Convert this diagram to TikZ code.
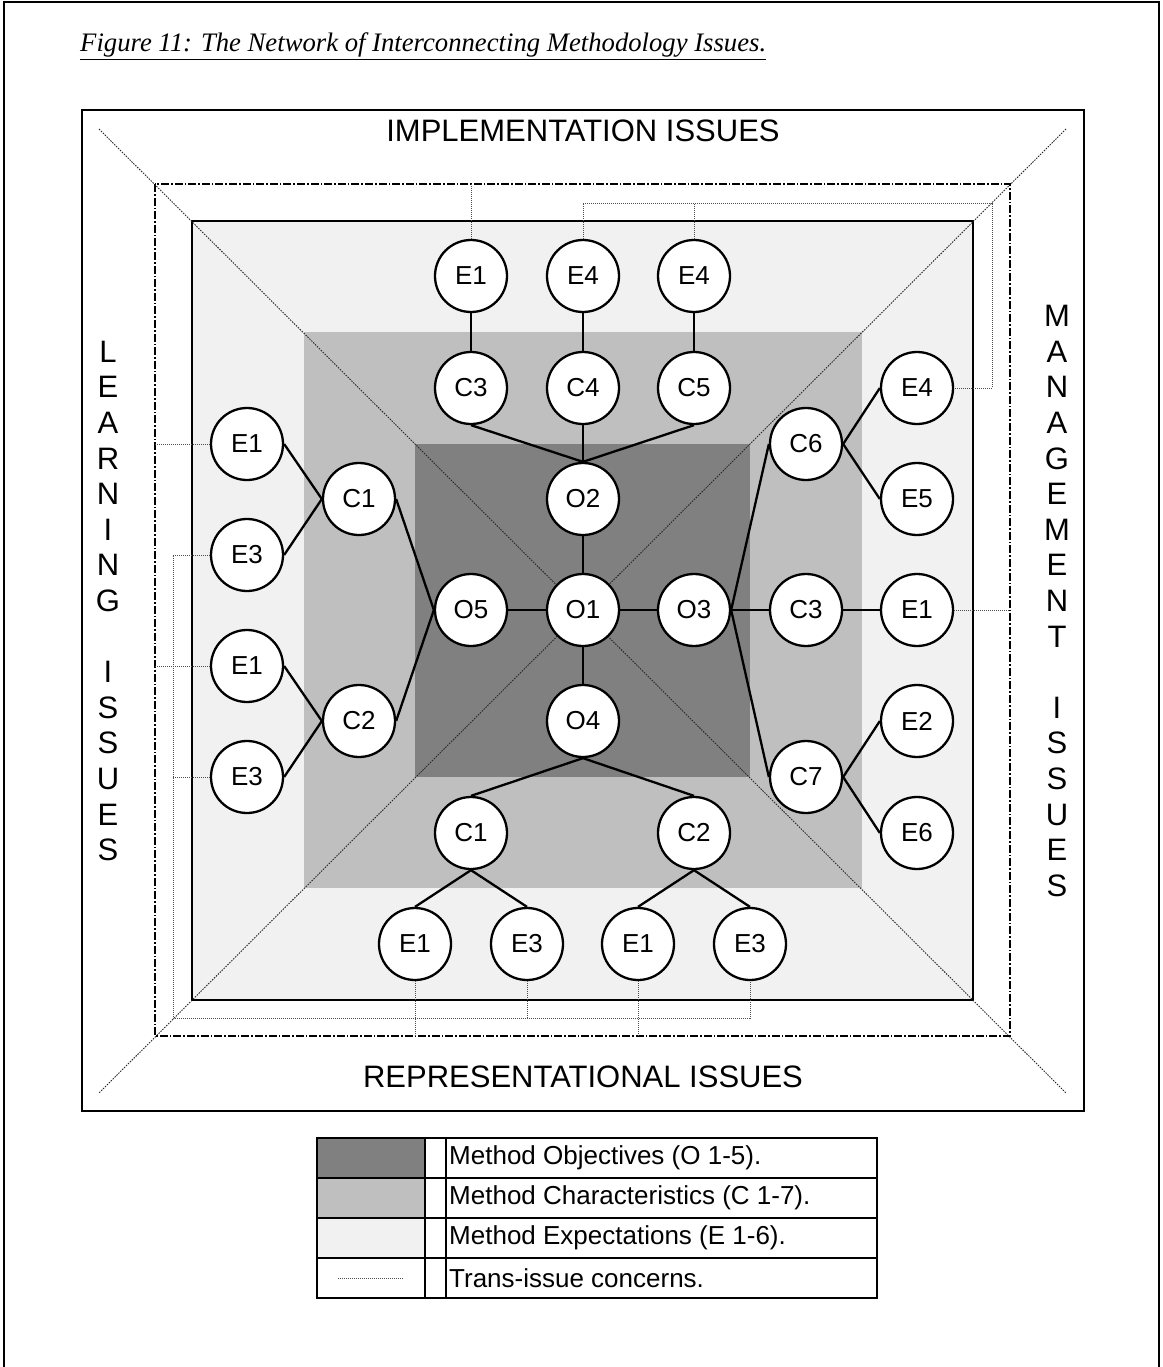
\documentclass[tikz,border=0pt]{standalone}
\usepackage{fontspec}
\setmainfont{Liberation Sans}
\newfontfamily\titlefont{Liberation Serif}
\definecolor{lightfill}{gray}{0.945}
\definecolor{midfill}{gray}{0.75}
\definecolor{darkfill}{gray}{0.5}
\tikzset{
  circ/.style={circle, draw=black, line width=2.3pt, fill=white, minimum size=72pt, inner sep=0pt, font=\fontsize{26}{26}\selectfont},
  link/.style={line width=2.3pt, black},
  diag/.style={line width=0.9pt, black!85, dash pattern=on 1.5pt off 1.2pt},
  eonec/.style={line width=1.4pt, black, dash pattern=on 8pt off 2pt on 1.6pt off 2pt},
  trans/.style={line width=1pt, black!70, dash pattern=on 1pt off 1pt},
  sidetext/.style={font=\fontsize{31}{35.6}\selectfont, align=center, inner sep=0pt},
  legtext/.style={font=\fontsize{26}{26}\selectfont, anchor=west, inner sep=0pt},
  legline/.style={line width=2.5pt, black}
}
\begin{document}
\begin{tikzpicture}[x=1pt,y=-1pt]
\useasboundingbox (0,0) rectangle (1162,1367);
% page border
\draw[line width=2pt] (4,1380) -- (4,2) -- (1159,2) -- (1159,1380);
% title
\node[anchor=base west, inner sep=0pt] (title) at (80,52)
  {\resizebox{686pt}{!}{\titlefont\itshape\fontsize{26.5}{30}\selectfont\underline{Figure 11: The Network of Interconnecting Methodology Issues.}}};
% main frame
\draw[line width=2.8pt] (82,110) rectangle (1084,1111);
% layered regions
\fill[lightfill] (192,221) rectangle (973,1000);
\fill[midfill] (304,332) rectangle (862,888);
\fill[darkfill] (415,444) rectangle (750,777);
\draw[line width=2.8pt] (192,221) rectangle (973,1000);
% diagonals
\draw[diag] (99,129) -- (1066,1093);
\draw[diag] (1066,129) -- (99,1093);
% issue labels
\node[sidetext] (impl) at (583,131) {IMPLEMENTATION ISSUES};
\node[sidetext] (repr) at (583,1077) {REPRESENTATIONAL ISSUES};
\node[sidetext] (learn) at (108,601) {L\\E\\A\\R\\N\\I\\N\\G\\\mbox{}\\I\\S\\S\\U\\E\\S};
\node[sidetext] (manage) at (1057,601) {M\\A\\N\\A\\G\\E\\M\\E\\N\\T\\\mbox{}\\I\\S\\S\\U\\E\\S};
% nodes
\node[circ] (tE1) at (471,276) {E1};
\node[circ] (tE4a) at (583,276) {E4};
\node[circ] (tE4b) at (694,276) {E4};
\node[circ] (tC3) at (471,388) {C3};
\node[circ] (tC4) at (583,388) {C4};
\node[circ] (tC5) at (694,388) {C5};
\node[circ] (O2) at (583,499) {O2};
\node[circ] (O1) at (583,610) {O1};
\node[circ] (O5) at (471,610) {O5};
\node[circ] (O3) at (694,610) {O3};
\node[circ] (O4) at (583,721) {O4};
\node[circ] (lE1a) at (247,444) {E1};
\node[circ] (lC1) at (359,499) {C1};
\node[circ] (lE3a) at (247,555) {E3};
\node[circ] (lE1b) at (247,666) {E1};
\node[circ] (lC2) at (359,721) {C2};
\node[circ] (lE3b) at (247,777) {E3};
\node[circ] (rC6) at (806,444) {C6};
\node[circ] (rE4) at (917,388) {E4};
\node[circ] (rE5) at (917,499) {E5};
\node[circ] (rC3) at (806,610) {C3};
\node[circ] (rE1) at (917,610) {E1};
\node[circ] (rC7) at (806,777) {C7};
\node[circ] (rE2) at (917,721) {E2};
\node[circ] (rE6) at (917,833) {E6};
\node[circ] (bC1) at (471,833) {C1};
\node[circ] (bC2) at (694,833) {C2};
\node[circ] (bE1a) at (415,944) {E1};
\node[circ] (bE3a) at (527,944) {E3};
\node[circ] (bE1b) at (638,944) {E1};
\node[circ] (bE3b) at (750,944) {E3};
% trans-issue concerns
\coordinate (ddTL) at (155,184);
\coordinate (ddBR) at (1010,1036);
\draw[eonec] (ddTL) rectangle (ddBR);
\draw[trans] (tE1.north) -- (tE1.north |- ddTL);
\draw[trans] (lE1a.west) -- (lE1a.west -| ddTL);
\draw[trans] (lE1b.west) -- (lE1b.west -| ddTL);
\draw[trans] (rE1.east) -- (rE1.east -| ddBR);
\draw[trans] (bE1a.south) -- (bE1a.south |- ddBR);
\draw[trans] (bE1b.south) -- (bE1b.south |- ddBR);
\coordinate (e3c) at (173,1018);
\draw[trans] (lE3a.west) -- (lE3a.west -| e3c) -- (e3c) -- (bE3b.south |- e3c) -- (bE3b.south);
\draw[trans] (lE3b.west) -- (lE3b.west -| e3c);
\draw[trans] (bE3a.south) -- (bE3a.south |- e3c);
\coordinate (e4c) at (992,203);
\draw[trans] (tE4a.north) -- (tE4a.north |- e4c) -- (e4c) -- (e4c |- rE4.east) -- (rE4.east);
\draw[trans] (tE4b.north) -- (tE4b.north |- e4c);
% connectors
\draw[link] (tE1) -- (tC3);
\draw[link] (tE4a) -- (tC4);
\draw[link] (tE4b) -- (tC5);
\draw[link] (tC3.south) -- (O2.north);
\draw[link] (tC4.south) -- (O2.north);
\draw[link] (tC5.south) -- (O2.north);
\draw[link] (O2) -- (O1);
\draw[link] (O1) -- (O5);
\draw[link] (O1) -- (O3);
\draw[link] (O1) -- (O4);
\draw[link] (O5.west) -- (lC1.east);
\draw[link] (O5.west) -- (lC2.east);
\draw[link] (lC1.west) -- (lE1a.east);
\draw[link] (lC1.west) -- (lE3a.east);
\draw[link] (lC2.west) -- (lE1b.east);
\draw[link] (lC2.west) -- (lE3b.east);
\draw[link] (O3.east) -- (rC6.west);
\draw[link] (O3.east) -- (rC7.west);
\draw[link] (O3) -- (rC3);
\draw[link] (rC3) -- (rE1);
\draw[link] (rC6.east) -- (rE4.west);
\draw[link] (rC6.east) -- (rE5.west);
\draw[link] (rC7.east) -- (rE2.west);
\draw[link] (rC7.east) -- (rE6.west);
\draw[link] (O4.south) -- (bC1.north);
\draw[link] (O4.south) -- (bC2.north);
\draw[link] (bC1.south) -- (bE1a.north);
\draw[link] (bC1.south) -- (bE3a.north);
\draw[link] (bC2.south) -- (bE1b.north);
\draw[link] (bC2.south) -- (bE3b.north);
% legend
\fill[darkfill] (317,1138) rectangle (425,1178);
\fill[midfill] (317,1178) rectangle (425,1218);
\fill[lightfill] (317,1218) rectangle (425,1258);
\draw[trans] (338,1278) -- (404,1278);
\draw[legline] (317,1138) rectangle (877,1298);
\draw[legline] (425,1138) -- (425,1298);
\draw[legline] (446,1138) -- (446,1298);
\draw[legline] (317,1178) -- (877,1178);
\draw[legline] (317,1218) -- (877,1218);
\draw[legline] (317,1258) -- (877,1258);
\node[legtext] (lg1) at (449,1158) {Method Objectives (O 1-5).};
\node[legtext] (lg2) at (449,1198) {Method Characteristics (C 1-7).};
\node[legtext] (lg3) at (449,1238) {Method Expectations (E 1-6).};
\node[legtext] (lg4) at (449,1278) {Trans-issue concerns.};
\end{tikzpicture}
\end{document}
